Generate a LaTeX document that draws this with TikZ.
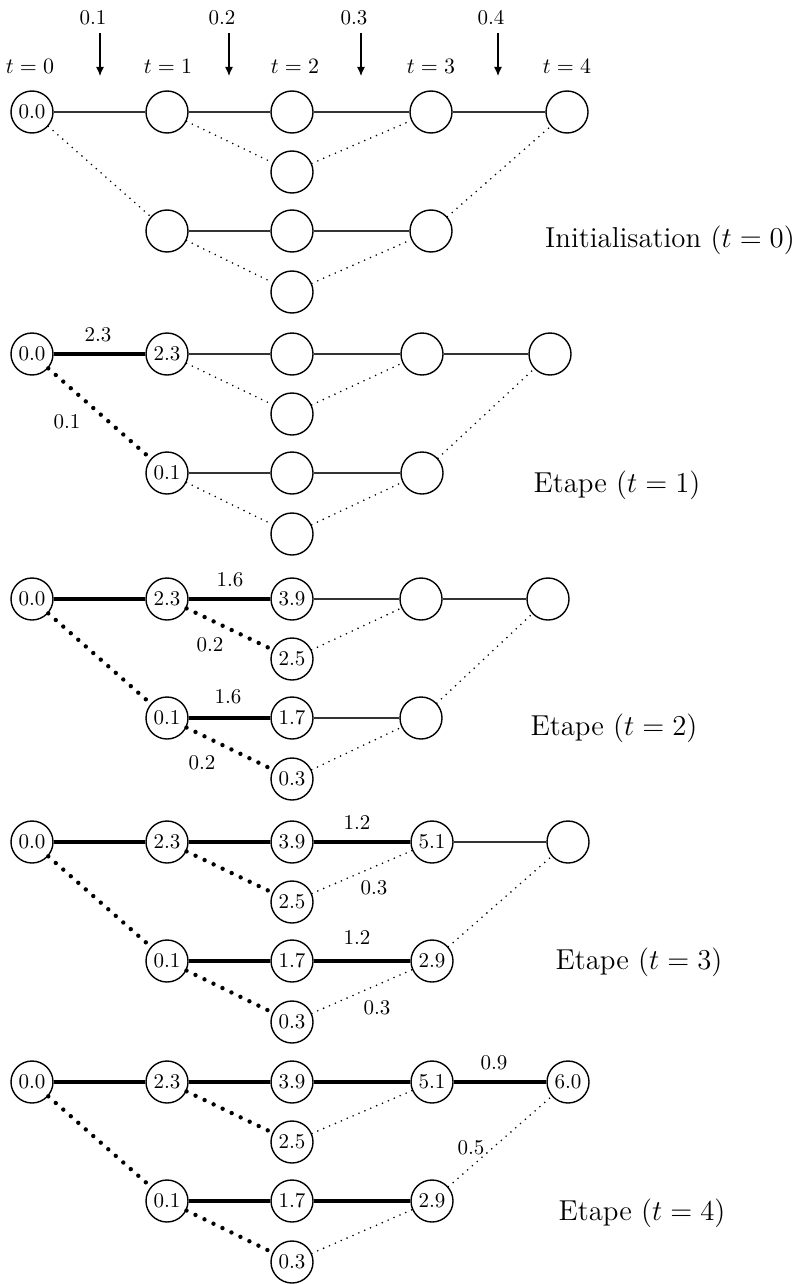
\documentclass[tikz,border=0pt]{standalone}
\usetikzlibrary{arrows.meta}

\tikzset{
	kreis/.style={circle,draw,line width=0.7pt,minimum size=21pt,inner sep=0pt,font=\fontsize{10.5}{12}\selectfont},
	duenn/.style={line width=0.6pt,color=black!80},
	punkt/.style={line width=0.9pt,line cap=round,dash pattern=on 0pt off 3.2pt},
	dick/.style={line width=1.8pt},
	dickpunkt/.style={line width=2.2pt,line cap=round,dash pattern=on 0pt off 5pt},
	zahl/.style={inner sep=0pt,font=\fontsize{10.5}{12}\selectfont},
	titel/.style={inner sep=0pt,font=\Large}
}

\def\knoten#1#2#3#4{\node[kreis] (#1) at (#2,#3) {#4};}
\def\zahl#1#2#3#4{\node[zahl] (#1) at (#2,#3) {#4};}
\def\kanten#1#2#3#4#5#6#7{
	\draw[#2] (#1a) -- (#1b1);
	\draw[#3] (#1a) -- (#1b2);
	\draw[#4] (#1b1) -- (#1c1);
	\draw[#5] (#1b1) -- (#1c2);
	\draw[#4] (#1b2) -- (#1c3);
	\draw[#5] (#1b2) -- (#1c4);
	\draw[#6] (#1c1) -- (#1d1);
	\draw[punkt] (#1c2) -- (#1d1);
	\draw[#6] (#1c3) -- (#1d2);
	\draw[punkt] (#1c4) -- (#1d2);
	\draw[#7] (#1d1) -- (#1e);
	\draw[punkt] (#1d2) -- (#1e);
}

\begin{document}
\begin{tikzpicture}[>={Latex[length=4.5pt,width=4pt]},x=0.5pt,y=-0.5pt]

\useasboundingbox (0,0) rectangle (805,1284);

\foreach \x/\w [count=\i] in {100/0.1,229/0.2,361/0.3,498/0.4}{
	\node[zahl] (w\i) at ({\x-7},18) {\w};
	\coordinate (o\i) at (\x,33);
	\coordinate (u\i) at (\x,76);
	\draw[->,line width=0.6pt] (o\i) -- (u\i);
}
\foreach \x/\t in {30/0,168/1,295/2,431/3,567/4}
	\node[zahl] (t\t) at (\x,66) {$t=\t$};

\knoten{p1a}{32}{112}{0.0}
\knoten{p1b1}{167}{112}{}
\knoten{p1b2}{167}{231}{}
\knoten{p1c1}{292}{112}{}
\knoten{p1c2}{292}{172}{}
\knoten{p1c3}{292}{231}{}
\knoten{p1c4}{292}{292}{}
\knoten{p1d1}{431}{112}{}
\knoten{p1d2}{431}{231}{}
\knoten{p1e}{567}{112}{}
\kanten{p1}{duenn}{punkt}{duenn}{punkt}{duenn}{duenn}
\node[titel] (init) at (670,240) {Initialisation ($t=0$)};

\knoten{p2a}{32}{354}{0.0}
\knoten{p2b1}{167}{354}{2.3}
\knoten{p2b2}{167}{473}{0.1}
\knoten{p2c1}{292}{354}{}
\knoten{p2c2}{292}{414}{}
\knoten{p2c3}{292}{473}{}
\knoten{p2c4}{292}{534}{}
\knoten{p2d1}{422}{354}{}
\knoten{p2d2}{422}{473}{}
\knoten{p2e}{550}{354}{}
\kanten{p2}{dick}{dickpunkt}{duenn}{punkt}{duenn}{duenn}
\zahl{p2x}{98}{335}{2.3}
\zahl{p2y}{67}{422}{0.1}
\node[titel] (etape1) at (617,485) {Etape ($t=1$)};

\knoten{p3a}{32}{599}{0.0}
\knoten{p3b1}{167}{599}{2.3}
\knoten{p3b2}{167}{718}{0.1}
\knoten{p3c1}{292}{599}{3.9}
\knoten{p3c2}{292}{659}{2.5}
\knoten{p3c3}{292}{718}{1.7}
\knoten{p3c4}{292}{779}{0.3}
\knoten{p3d1}{421}{599}{}
\knoten{p3d2}{421}{718}{}
\knoten{p3e}{548}{599}{}
\kanten{p3}{dick}{dickpunkt}{dick}{dickpunkt}{duenn}{duenn}
\zahl{p3x}{230}{580}{1.6}
\zahl{p3y}{210}{645}{0.2}
\zahl{p3z}{228}{697}{1.6}
\zahl{p3w}{202}{763}{0.2}
\node[titel] (etape2) at (614,728) {Etape ($t=2$)};

\knoten{p4a}{32}{842}{0.0}
\knoten{p4b1}{167}{842}{2.3}
\knoten{p4b2}{167}{961}{0.1}
\knoten{p4c1}{292}{842}{3.9}
\knoten{p4c2}{292}{902}{2.5}
\knoten{p4c3}{292}{961}{1.7}
\knoten{p4c4}{292}{1022}{0.3}
\knoten{p4d1}{432}{842}{5.1}
\knoten{p4d2}{432}{961}{2.9}
\knoten{p4e}{568}{842}{}
\kanten{p4}{dick}{dickpunkt}{dick}{dickpunkt}{dick}{duenn}
\zahl{p4x}{357}{822}{1.2}
\zahl{p4y}{374}{888}{0.3}
\zahl{p4z}{357}{937}{1.2}
\zahl{p4w}{377}{1008}{0.3}
\node[titel] (etape3) at (639,962) {Etape ($t=3$)};

\knoten{p5a}{32}{1082}{0.0}
\knoten{p5b1}{167}{1082}{2.3}
\knoten{p5b2}{167}{1201}{0.1}
\knoten{p5c1}{292}{1082}{3.9}
\knoten{p5c2}{292}{1142}{2.5}
\knoten{p5c3}{292}{1201}{1.7}
\knoten{p5c4}{292}{1262}{0.3}
\knoten{p5d1}{432}{1082}{5.1}
\knoten{p5d2}{432}{1201}{2.9}
\knoten{p5e}{568}{1082}{6.0}
\kanten{p5}{dick}{dickpunkt}{dick}{dickpunkt}{dick}{dick}
\zahl{p5x}{494}{1063}{0.9}
\zahl{p5y}{471}{1148}{0.5}
\node[titel] (etape4) at (642,1213) {Etape ($t=4$)};

\end{tikzpicture}
\end{document}
